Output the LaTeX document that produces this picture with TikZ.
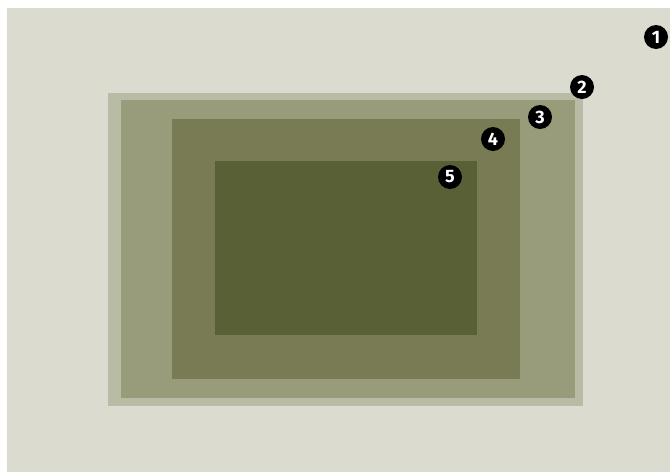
\documentclass[tikz,border=0pt]{standalone}
\usepackage{fontspec}
\setmainfont{Fira Sans}
\definecolor{bgc}{HTML}{DBDBD0}
\definecolor{ca}{HTML}{B9BCA5}
\definecolor{cb}{HTML}{999C7B}
\definecolor{cc}{HTML}{787B53}
\definecolor{cd}{HTML}{5A6036}
\tikzset{
  num/.style={circle, fill=black, text=white, minimum size=24pt, inner sep=0pt, font=\fontsize{18}{18}\selectfont\bfseries},
  layer/.style={draw=none}
}
\begin{document}
\begin{tikzpicture}[x=1pt,y=-1pt]
\useasboundingbox (0,0) rectangle (670,472);
\fill[white] (0,0) rectangle (670,472);
\fill[bgc] (7,8) rectangle (670,472);
\fill[ca] (108,93) rectangle (583,406);
\fill[cb] (121,100) rectangle (575,398);
\fill[cc] (172,119) rectangle (520,379);
\fill[cd] (215,161) rectangle (477,335);
\node[num] (n1) at (656,37) {1};
\node[num] (n2) at (582,87) {2};
\node[num] (n3) at (540,117) {3};
\node[num] (n4) at (493,139) {4};
\node[num] (n5) at (450,177) {5};
\end{tikzpicture}
\end{document}
